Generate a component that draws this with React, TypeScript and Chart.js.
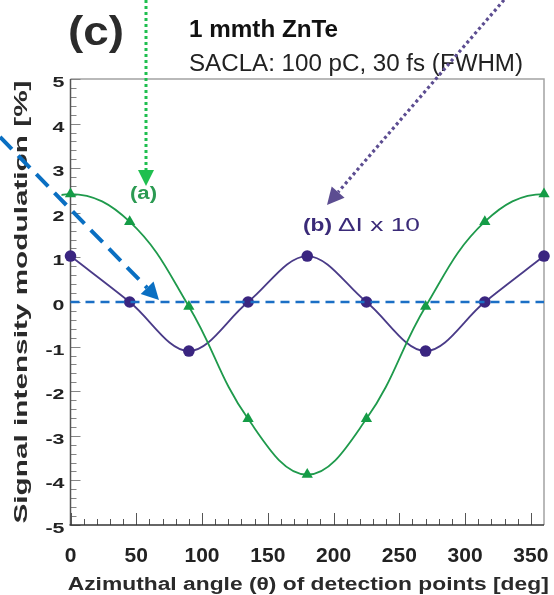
import React, { useEffect, useRef } from "react";
import { Chart, registerables } from "chart.js";

Chart.register(...registerables);

// ---------- data ----------
const angles = [0, 45, 90, 135, 180, 225, 270, 315, 360];
const seriesA = [2.42, 1.8, -0.1, -2.62, -3.87, -2.62, -0.1, 1.8, 2.42];
const seriesB = [1.03, 0, -1.1, 0, 1.03, 0, -1.1, 0, 1.03];
const zeroLineX = [0, 360];
const zeroLineY = [0, 0];
const period = 360;

const xTicks = [0, 50, 100, 150, 200, 250, 300, 350];
const xMinorTicks = [10, 20, 30, 40, 60, 70, 80, 90, 110, 120, 130, 140, 160, 170, 180, 190, 210, 220, 230, 240, 260, 270, 280, 290, 310, 320, 330, 340];
const yTicks = [-5, -4, -3, -2, -1, 0, 1, 2, 3, 4, 5];
const yMinorStep = 0.2;

const panelLabel = "(c)";
const titleLine1 = "1 mmth ZnTe";
const titleLine2 = "SACLA: 100 pC, 30 fs (FWHM)";
const labelA = "(a)";
const labelB1 = "(b)";
const labelB2 = "ΔI x 10";
const xTitle = "Azimuthal angle (θ) of detection points [deg]";
const yTitle = "Signal intensity modulation [%]";

const FONT = "'Liberation Sans', Arial, Helvetica, sans-serif";

function drawText(
  ctx: CanvasRenderingContext2D,
  text: string,
  x: number,
  y: number,
  font: string,
  color: string,
  align: CanvasTextAlign,
  opts: { width?: number; scaleX?: number; baseline?: CanvasTextBaseline; rotate?: number } = {}
) {
  ctx.save();
  ctx.font = font;
  const w = ctx.measureText(text).width;
  const sx = opts.width ? opts.width / w : opts.scaleX ?? 1;
  ctx.translate(x, y);
  if (opts.rotate) ctx.rotate(opts.rotate);
  ctx.scale(sx, 1);
  ctx.textAlign = align;
  ctx.textBaseline = opts.baseline ?? "alphabetic";
  ctx.fillStyle = color;
  ctx.fillText(text, 0, 0);
  ctx.restore();
}

function drawArrow(
  ctx: CanvasRenderingContext2D,
  x1: number,
  y1: number,
  x2: number,
  y2: number,
  color: string,
  lw: number,
  dash: number[],
  headLen: number,
  headHalf: number
) {
  const dx = x2 - x1;
  const dy = y2 - y1;
  const len = Math.hypot(dx, dy);
  const ux = dx / len;
  const uy = dy / len;
  const bx = x2 - ux * headLen;
  const by = y2 - uy * headLen;
  ctx.save();
  ctx.strokeStyle = color;
  ctx.lineWidth = lw;
  ctx.setLineDash(dash);
  ctx.beginPath();
  ctx.moveTo(x1, y1);
  ctx.lineTo(bx, by);
  ctx.stroke();
  ctx.setLineDash([]);
  ctx.fillStyle = color;
  ctx.beginPath();
  ctx.moveTo(x2, y2);
  ctx.lineTo(bx - uy * headHalf, by + ux * headHalf);
  ctx.lineTo(bx + uy * headHalf, by - ux * headHalf);
  ctx.closePath();
  ctx.fill();
  ctx.restore();
}

const framePlugin = {
  id: "framePlugin",
  beforeDatasetsDraw(chart: any) {
    const { ctx, chartArea } = chart;
    const { left, right, top, bottom } = chartArea;
    const xs = chart.scales.x;
    const ys = chart.scales.y;
    ctx.save();
    ctx.lineWidth = 1.5;
    ctx.strokeStyle = "#a3a3a3";
    ctx.beginPath();
    ctx.moveTo(left, top);
    ctx.lineTo(right, top);
    ctx.lineTo(right, bottom);
    ctx.stroke();
    ctx.lineWidth = 1;
    ctx.strokeStyle = "#858585";
    const yMin = yTicks[0];
    const yMax = yTicks[yTicks.length - 1];
    const nMinor = Math.round((yMax - yMin) / yMinorStep);
    for (let i = 0; i <= nMinor; i++) {
      const v = yMin + i * yMinorStep;
      const isMajor = Math.abs(v - Math.round(v)) < 1e-6;
      const py = Math.round(ys.getPixelForValue(v)) + 0.5;
      ctx.beginPath();
      ctx.moveTo(left, py);
      ctx.lineTo(left + (isMajor ? 10 : 6), py);
      ctx.stroke();
    }
    ctx.strokeStyle = "#555";
    xTicks.forEach((v) => {
      const px = Math.round(xs.getPixelForValue(v)) + 0.5;
      ctx.beginPath();
      ctx.moveTo(px, bottom);
      ctx.lineTo(px, bottom - 12);
      ctx.stroke();
    });
    xMinorTicks.forEach((v) => {
      const px = Math.round(xs.getPixelForValue(v)) + 0.5;
      ctx.beginPath();
      ctx.moveTo(px, bottom);
      ctx.lineTo(px, bottom - 6);
      ctx.stroke();
    });
    ctx.lineWidth = 1.5;
    ctx.strokeStyle = "#555";
    ctx.beginPath();
    ctx.moveTo(left, top);
    ctx.lineTo(left, bottom);
    ctx.stroke();
    ctx.strokeStyle = "#333";
    ctx.beginPath();
    ctx.moveTo(left - 1, bottom);
    ctx.lineTo(right, bottom);
    ctx.stroke();
    ctx.restore();

    yTicks.forEach((v) => {
      const py = ys.getPixelForValue(v);
      drawText(ctx, String(v), left - 6, py + 8, `bold 15.5px ${FONT}`, "#222", "right", { scaleX: 1.38 });
    });
    xTicks.forEach((v) => {
      const px = xs.getPixelForValue(v);
      drawText(ctx, String(v), px, bottom + 37, `bold 21px ${FONT}`, "#222", "center");
    });
    drawText(ctx, xTitle, (left + right) / 2 + 1, 590, `bold 18px ${FONT}`, "#2a2a2a", "center", { width: 481 });
    drawText(ctx, yTitle, 22, (top + bottom) / 2, `bold 19px ${FONT}`, "#2a2a2a", "center", {
      width: 443,
      baseline: "middle",
      rotate: -Math.PI / 2,
    });
  },
  afterDraw(chart: any) {
    const { ctx } = chart;
    drawText(ctx, panelLabel, 68, 44.5, `bold 40px ${FONT}`, "#2b2b2b", "left", { width: 56 });
    drawText(ctx, titleLine1, 189, 37, `bold 24px ${FONT}`, "#111", "left", { width: 149 });
    drawText(ctx, titleLine2, 189, 71, `23.5px ${FONT}`, "#222", "left", { width: 334 });
    drawText(ctx, labelA, 130, 199, `bold 18px ${FONT}`, "#2b9a52", "left", { width: 27 });
    drawText(ctx, labelB1, 303, 231, `bold 19px ${FONT}`, "#3a2a78", "left", { width: 29 });
    drawText(ctx, labelB2, 338, 231, `19px ${FONT}`, "#3a2a78", "left", { width: 82 });
    drawArrow(ctx, 146, 0, 146, 186, "#1fbf4f", 3, [3, 3], 16, 8);
    drawArrow(ctx, 504, 0, 327, 205, "#5c4d91", 3.2, [3, 3], 17, 8.5);
    drawArrow(ctx, 0, 137, 159, 300, "#0a6fc2", 4, [17, 9], 17, 9);
  },
};

export default function App() {
  const ref = useRef<HTMLCanvasElement | null>(null);

  useEffect(() => {
    if (!ref.current) return;
    const pointsA = angles.map((a, i) => ({ x: a, y: seriesA[i] }));
    const extA = [
      { x: angles[angles.length - 2] - period, y: seriesA[seriesA.length - 2] },
      ...pointsA,
      { x: angles[1] + period, y: seriesA[1] },
    ];
    const pointsB = angles.map((a, i) => ({ x: a, y: seriesB[i] }));
    const zero = zeroLineX.map((x, i) => ({ x, y: zeroLineY[i] }));

    const chart = new Chart(ref.current, {
      type: "line",
      data: {
        datasets: [
          {
            data: zero,
            borderColor: "#1b6fc5",
            borderWidth: 2.6,
            borderDash: [9, 6],
            pointRadius: 0,
            tension: 0,
            clip: 6,
          },
          {
            data: extA,
            borderColor: "#1f9a4c",
            backgroundColor: "#119a44",
            borderWidth: 1.8,
            pointStyle: "triangle",
            pointRadius: 6.5,
            pointBorderWidth: 0,
            pointBackgroundColor: "#149c46",
            tension: 0.4,
            clip: 9,
          },
          {
            data: pointsB,
            borderColor: "#4a3b88",
            borderWidth: 1.8,
            pointStyle: "circle",
            pointRadius: 5.8,
            pointBorderWidth: 0,
            pointBackgroundColor: "#3a2580",
            tension: 0.35,
            clip: 9,
          },
        ],
      },
      options: {
        responsive: false,
        animation: false,
        events: [],
        layout: { padding: { left: 70.5, right: 10, top: 79, bottom: 70 } },
        plugins: { legend: { display: false }, tooltip: { enabled: false } },
        scales: {
          x: { type: "linear", min: 0, max: 360, display: false },
          y: { type: "linear", min: -5, max: 5, display: false },
        },
      },
      plugins: [framePlugin],
    });
    return () => chart.destroy();
  }, []);

  return (
    <div style={{ position: "fixed", left: 0, top: 0, width: 554, height: 595, background: "#fff" }}>
      <canvas ref={ref} width={554} height={595} style={{ width: 554, height: 595, display: "block" }} />
    </div>
  );
}
